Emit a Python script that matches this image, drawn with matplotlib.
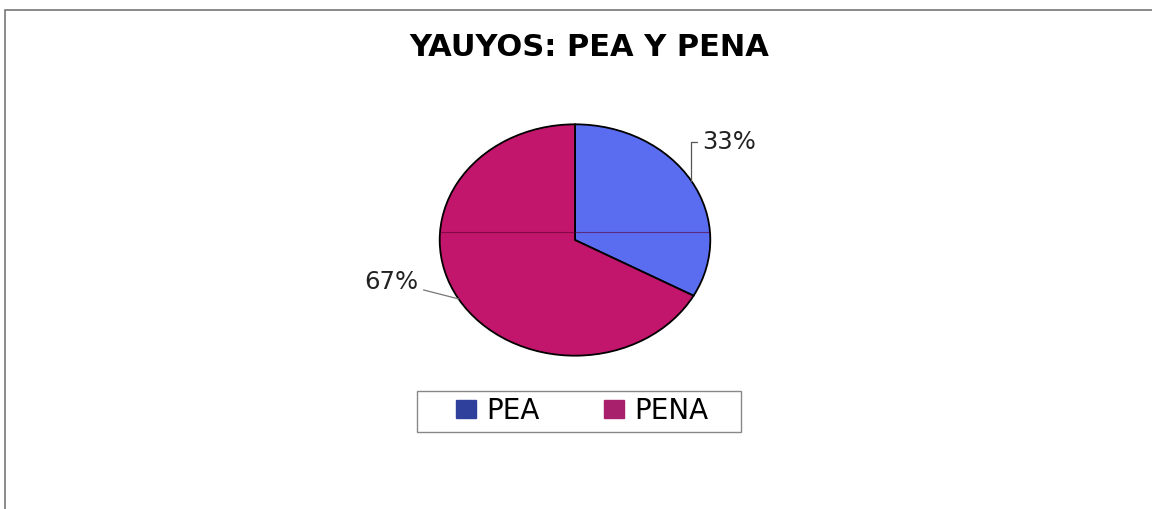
import matplotlib
matplotlib.use("Agg")
import matplotlib.pyplot as plt
import numpy as np
from matplotlib.patches import Rectangle, Circle, Patch

labels = ["PEA", "PENA"]
values = [33, 67]
pct_labels = ["33%", "67%"]
colors = ["#5a6df0", "#c2166c"]
legend_colors = ["#2f3f9c", "#a8206c"]
title = "YAUYOS: PEA Y PENA"

W, H = 1152, 509
fig = plt.figure(figsize=(W / 100, H / 100), dpi=100)
fig.patch.set_facecolor("white")

# outer frame
fig.add_artist(Rectangle((5 / W, -0.05), 1.2, (H - 10) / H + 0.05, transform=fig.transFigure,
                         fill=False, edgecolor="#777777", linewidth=1.2))

fig.text(589 / W, 1 - 48 / H, title, ha="center", va="center", fontsize=22,
         fontweight="bold", family="DejaVu Sans")

# pie axes
left, right, top, bottom = 437, 713, 122, 358
ax = fig.add_axes([left / W, 1 - bottom / H, (right - left) / W, (bottom - top) / H])
wedges, _ = ax.pie(values, colors=colors, startangle=90, counterclock=False, radius=1,
                   wedgeprops=dict(edgecolor="black", linewidth=1.3))
ax.set_aspect("auto")
ax.set_xlim(-1.02, 1.02)
ax.set_ylim(-1.02, 1.02)
ax.axis("off")

# scan artifact line across the pie
clip = Circle((0, 0), 1, transform=ax.transData)
ln, = ax.plot([-1, 1], [0.07, 0.07], color="#5a0030", linewidth=0.8, alpha=0.6)
ln.set_clip_path(clip)

# percentage labels with leader lines
for w, txt in zip(wedges, pct_labels):
    ang = np.deg2rad((w.theta1 + w.theta2) / 2)
    x, y = np.cos(ang), np.sin(ang)
    if x > 0:
        ax.annotate(txt, xy=(x, y), xytext=(0.94, 0.85), ha="left", va="center",
                    fontsize=17.5, family="DejaVu Sans", color="#222222",
                    annotation_clip=False,
                    arrowprops=dict(arrowstyle="-", color="#555555", lw=0.9,
                                    connectionstyle="angle,angleA=0,angleB=90,rad=0",
                                    shrinkA=2, shrinkB=0))
    else:
        ax.annotate(txt, xy=(x, y), xytext=(-1.16, -0.36), ha="right", va="center",
                    fontsize=17.5, family="DejaVu Sans", color="#222222",
                    annotation_clip=False,
                    arrowprops=dict(arrowstyle="-", color="#777777", lw=0.9,
                                    shrinkA=2, shrinkB=0))

# legend frame (drawn separately for its wider side padding)
fig.add_artist(Rectangle((417 / W, 1 - 432 / H), (741 - 417) / W, (432 - 391) / H,
                         transform=fig.transFigure, fill=False, edgecolor="#888888",
                         linewidth=1.0))
handles = [Patch(facecolor=c, edgecolor=c) for c in legend_colors]
leg = fig.legend(handles, labels, loc="center", bbox_to_anchor=(582 / W, 1 - 411 / H),
                 ncol=2, frameon=False,
                 prop=dict(family="DejaVu Sans", size=20),
                 handlelength=0.72, handleheight=0.62, handletextpad=0.38,
                 columnspacing=2.3, borderpad=0.2, borderaxespad=0)

fig.savefig("out.png", dpi=100, facecolor="white")
